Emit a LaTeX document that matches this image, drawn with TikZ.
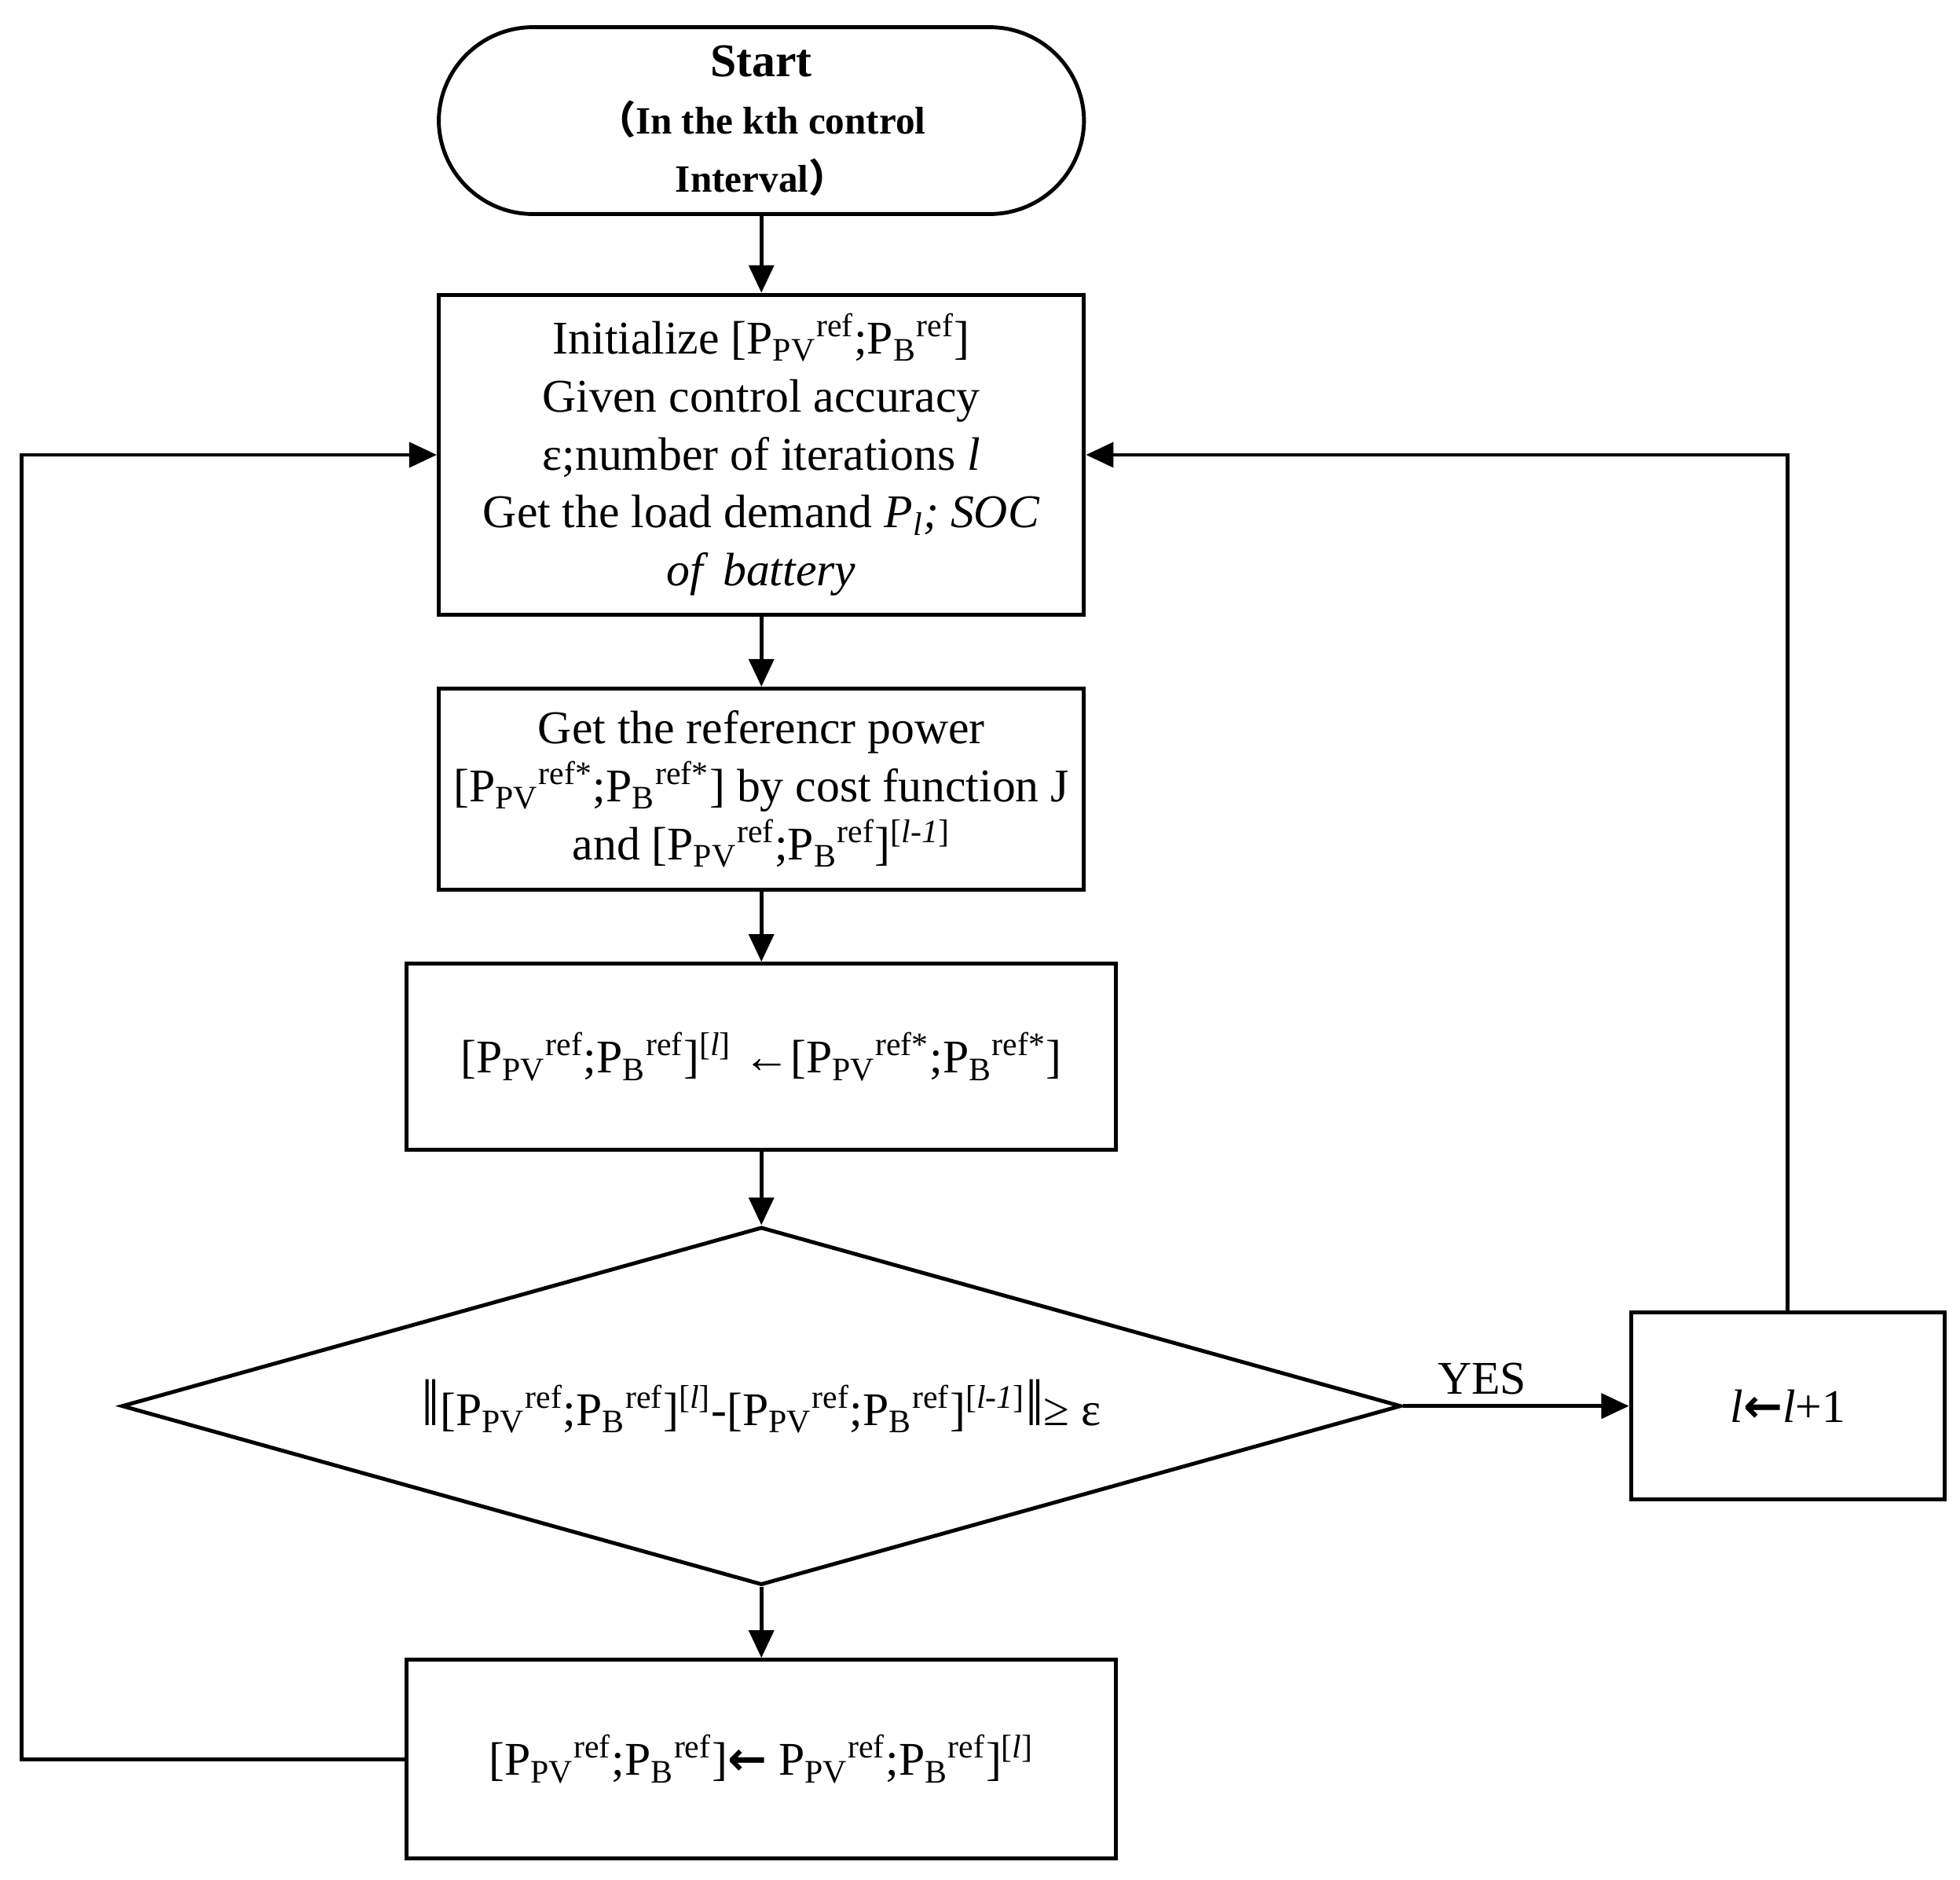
\documentclass[tikz,border=0pt]{standalone}
\usepackage{fontspec}
\setmainfont{Liberation Serif}
\newfontfamily\cjk{Noto Sans CJK SC}
\newfontfamily\arr{DejaVu Sans}
\usetikzlibrary{arrows.meta,shapes.geometric}
\newcommand{\pv}[1]{P\textsubscript{PV}\textsuperscript{#1}}
\newcommand{\pb}[1]{P\textsubscript{B}\textsuperscript{#1}}
\newcommand{\il}{\textit{l}}
\newcommand{\barr}{{\arr\bfseries ←}}
\newcommand{\nrm}{{\fontsize{24}{24}\selectfont ‖}}
\begin{document}
\begin{tikzpicture}[
        x=0.016cm, y=-0.016cm,
        font=\fontsize{17}{21}\selectfont,
        line width=1.4pt,
        box/.style={rectangle, draw, align=center, inner sep=2pt},
        startend/.style={rectangle, rounded corners=1.2cm, draw, align=center, minimum width=8.22cm, minimum height=2.38cm, font=\fontsize{14}{21}\selectfont\bfseries},
        decision/.style={diamond, draw, aspect=3.55, inner sep=0pt, minimum width=16.3cm, minimum height=4.56cm},
        arrow/.style={-{Triangle[length=10pt,width=9pt]}}
    ]
    \useasboundingbox (0,0) rectangle (1560,1496);

    % Nodes
    \node[startend] (start) at (606,96) {{\fontsize{17}{21}\selectfont Start}\\{\cjk （}In the kth control\\Interval{\cjk ）}};
    \node[box, minimum width=8.22cm, minimum height=4.08cm] (init) at (606,362)
        {Initialize [\pv{ref};\pb{ref}]\\Given control accuracy\\ε;number of iterations \il\\Get the load demand \textit{P\textsubscript{l}; SOC}\\\textit{of\, battery}};
    \node[box, minimum width=8.22cm, minimum height=2.56cm] (refp) at (606,628)
        {Get the referencr power\\{}[\pv{ref*};\pb{ref*}] by cost function J\\and [\pv{ref};\pb{ref}]\textsuperscript{[\textit{l-1}]}};
    \node[box, minimum width=9.04cm, minimum height=2.37cm] (assign) at (606,841)
        {[\pv{ref};\pb{ref}]\textsuperscript{[\il]} ←[\pv{ref*};\pb{ref*}]};
    \node[decision] (check) at (606,1119)
        {\nrm[\pv{ref};\pb{ref}]\textsuperscript{[\il]}-[\pv{ref};\pb{ref}]\textsuperscript{[\textit{l-1}]}\nrm≥ ε};
    \node[box, minimum width=4.0cm, minimum height=2.38cm] (incr) at (1423,1119)
        {\il\barr\il+1};
    \node[box, minimum width=9.04cm, minimum height=2.53cm] (update) at (606,1400)
        {[\pv{ref};\pb{ref}]\barr\ \pv{ref};\pb{ref}]\textsuperscript{[\il]}};

    % Connections
    \draw[arrow] (start) -- (init);
    \draw[arrow] (init) -- (refp);
    \draw[arrow] (refp) -- (assign);
    \draw[arrow] (assign) -- (check);
    \draw[arrow] (check) -- (update);
    \draw[arrow] (check) -- node[above, pos=0.35] {YES} (incr);
    \draw[arrow] (incr.north) |- (init.east);
    \draw[arrow] (update.west) -- ++(-305,0) |- (init.west);
\end{tikzpicture}
\end{document}
